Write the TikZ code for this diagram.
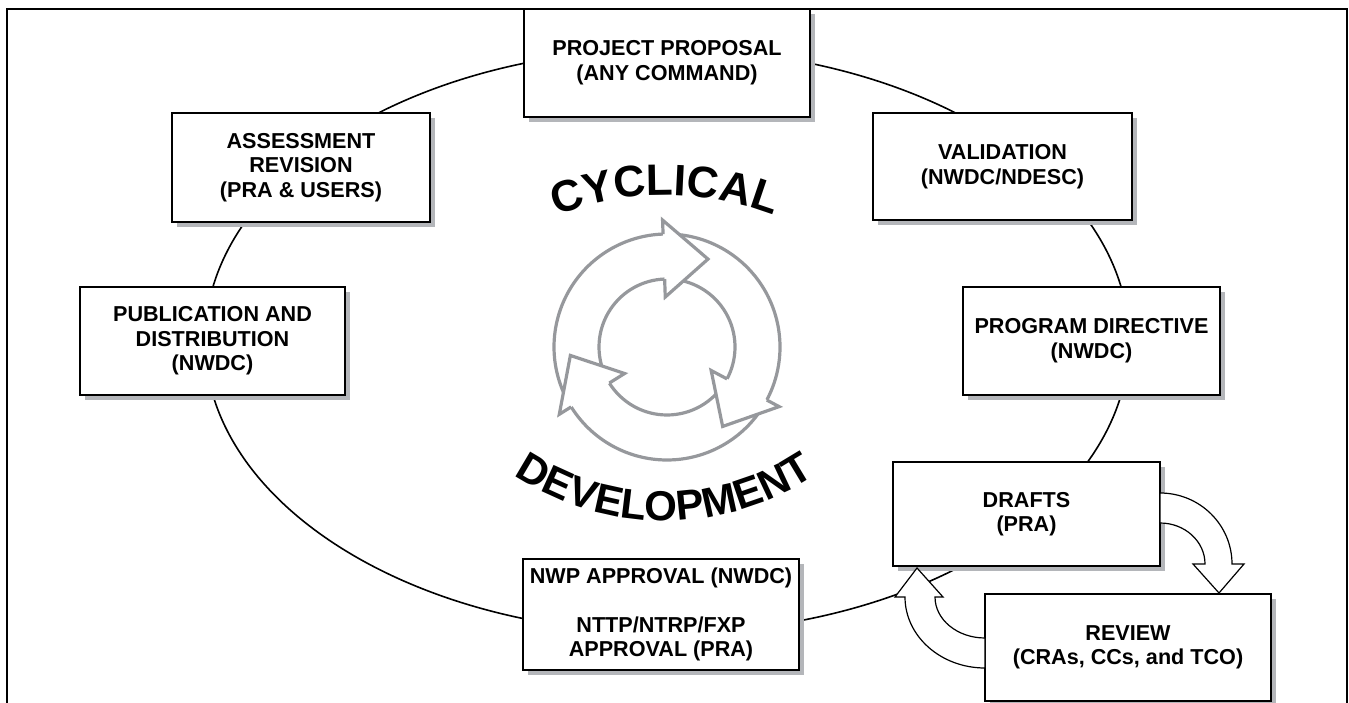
\documentclass[tikz,border=0pt]{standalone}
\usepackage{fontspec}
\setmainfont{Liberation Sans}
\usetikzlibrary{shadows,decorations.text}
\definecolor{shadowgray}{RGB}{180,182,186}
\definecolor{cyclegray}{RGB}{150,152,156}

\begin{document}
\begin{tikzpicture}[x=0.5pt,y=0.5pt,
  stage/.style={draw=black, line width=1pt, fill=white, align=center,
    font=\fontsize{10.8}{12.3}\selectfont\bfseries, inner sep=0pt,
    drop shadow={shadow xshift=2.5pt, shadow yshift=-2.5pt, fill=shadowgray, opacity=1}},
  cyc/.style={draw=cyclegray, line width=1.6pt, line join=miter},
  hollowarrow/.style={draw=black, line width=0.6pt, fill=white}]

\useasboundingbox (0,0) rectangle (1349,702);
\clip (0,0) rectangle (1349,702);

% frame, open at the bottom
\draw[line width=1.2pt] (7,-20) -- (7,693) -- (1347,693) -- (1347,-20);

% the cycle behind the stages
\draw[line width=0.8pt] (667,361) ellipse [x radius=462, y radius=292];

% round arrows in the middle
\begin{scope}[shift={(667,355)}]
\foreach \b [evaluate=\b as \t using \b+114] in {92,-28,212} {
  \draw[cyc] (\t:113) arc[start angle=\t, end angle=\b, radius=113];
  \draw[cyc] (\t:68) arc[start angle=\t, end angle=\b, radius=68];
}
\foreach \b [evaluate=\b as \p using \b-27] in {92,-28,212} {
  \fill[white] (\b:127) -- (\p:97) -- (\b:50) -- cycle;
  \draw[cyc] (\b:113) -- (\b:127) -- (\p:97) -- (\b:50) -- (\b:68);
}
\end{scope}

% big words
\path[decorate, decoration={text along path, text align=center,
  text={|\fontsize{22}{22}\selectfont\bfseries|CYCLICAL}}]
  (555,486) arc[start angle=111.5, end angle=68.5, radius=300];
\path[decorate, decoration={text along path, text align=center,
  text={|\fontsize{21}{21}\selectfont\bfseries|DEVELOPMENT}}]
  (515.2,226.1) arc[start angle=236.5, end angle=303.5, radius=271];

% stages
\node[stage, minimum width=143pt, minimum height=54pt] (proposal) at (667,639) {PROJECT PROPOSAL\\(ANY COMMAND)};
\node[stage, minimum width=129pt, minimum height=54.5pt] (assessment) at (301,534.5) {ASSESSMENT\\REVISION\\(PRA \& USERS)};
\node[stage, minimum width=129.5pt, minimum height=53.5pt] (validation) at (1002.5,535.5) {VALIDATION\\(NWDC/NDESC)};
\node[stage, minimum width=128.5pt, minimum height=54pt] (directive) at (1091.5,361) {PROGRAM DIRECTIVE\\(NWDC)};
\node[stage, minimum width=132.5pt, minimum height=54pt] (publication) at (212.5,361) {PUBLICATION AND\\DISTRIBUTION\\(NWDC)};
\node[stage, minimum width=133.5pt, minimum height=52pt] (drafts) at (1026.5,188) {DRAFTS\\(PRA)};
\node[stage, minimum width=143pt, minimum height=53.5pt] (review) at (1128,54.5) {REVIEW\\(CRAs, CCs, and TCO)};
\node[stage, minimum width=138pt, minimum height=55.5pt] (approval) at (661,87.5) {NWP APPROVAL (NWDC)\\[12.3pt]NTTP/NTRP/FXP\\APPROVAL (PRA)};

% hollow arrows between drafts and review
\draw[hollowarrow] (1160,209) arc[start angle=90, end angle=0, x radius=72, y radius=71]
  -- (1244,138) -- (1219,109) -- (1193,138) -- (1205,138)
  arc[start angle=0, end angle=90, x radius=45, y radius=41] -- cycle;
\draw[hollowarrow] (985,34) arc[start angle=270, end angle=180, x radius=80, y radius=71]
  -- (895,105) -- (917,134) -- (943,105) -- (935,105)
  arc[start angle=180, end angle=270, x radius=50, y radius=41] -- cycle;

\end{tikzpicture}
\end{document}
